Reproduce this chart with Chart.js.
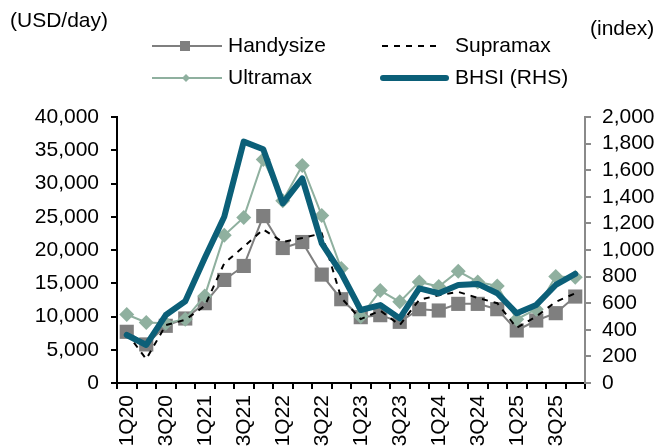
<!DOCTYPE html>
<html>
<head>
<meta charset="utf-8">
<script src="https://cdn.jsdelivr.net/npm/chart.js@4/dist/chart.umd.min.js"></script>
<style>
  html, body { margin: 0; padding: 0; background: #fff; overflow: hidden; }
  #wrap { width: 661px; height: 448px; position: relative; }
</style>
</head>
<body>
<div id="wrap"><canvas id="myChart"></canvas></div>
<script>
'use strict';

let quarters = ['1Q20','2Q20','3Q20','4Q20','1Q21','2Q21','3Q21','4Q21','1Q22','2Q22','3Q22','4Q22',
  '1Q23','2Q23','3Q23','4Q23','1Q24','2Q24','3Q24','4Q24','1Q25','2Q25','3Q25','4Q25'];

let handysize = [7700, 5800, 8600, 9700, 12000, 15500, 17600, 25100, 20300, 21200, 16300, 12600,
  9900, 10200, 9200, 11100, 10900, 11900, 11900, 11100, 7900, 9400, 10500, 13000];
let supramax = [7500, 3600, 8700, 9500, 11600, 18000, 20500, 23100, 21200, 21800, 22500, 12800,
  9600, 10900, 8700, 12500, 13200, 13700, 12800, 12000, 8300, 10000, 12200, 13500];
let ultramax = [10300, 9100, 9000, 9600, 13100, 22200, 24900, 33600, 27400, 32700, 25200, 17200,
  10000, 13900, 12200, 15200, 14500, 16800, 15200, 14600, 9600, 11100, 16000, 15900];
let bhsi = [361, 286, 511, 615, 940, 1250, 1815, 1757, 1351, 1539, 1050, 827,
  549, 586, 486, 712, 675, 737, 745, 675, 524, 587, 737, 820];

let leftTicks = [0, 5000, 10000, 15000, 20000, 25000, 30000, 35000, 40000];
let rightTicks = [0, 200, 400, 600, 800, 1000, 1200, 1400, 1600, 1800, 2000];

const FONT = '"Liberation Sans", Arial, sans-serif';
const FS = 21;
const C_HANDY = '#7f7f7f';
const C_ULTRA = '#8fb09f';
const C_BHSI = '#0b5f78';

// legend + axis unit labels drawn by hand
const extras = {
    id: 'extras',
    afterDraw(chart) {
        const ctx = chart.ctx;
        ctx.save();
        ctx.font = FS + 'px ' + FONT;
        ctx.fillStyle = '#000';
        ctx.textBaseline = 'middle';
        ctx.textAlign = 'left';
        ctx.fillText('(USD/day)', 10, 21);
        ctx.fillText('(index)', 590, 29);

        // Handysize
        ctx.strokeStyle = C_HANDY; ctx.lineWidth = 2; ctx.setLineDash([]);
        ctx.beginPath(); ctx.moveTo(152, 46); ctx.lineTo(222, 46); ctx.stroke();
        ctx.fillStyle = C_HANDY; ctx.fillRect(180, 41, 10, 10);
        // Ultramax
        ctx.strokeStyle = C_ULTRA;
        ctx.beginPath(); ctx.moveTo(152, 78); ctx.lineTo(222, 78); ctx.stroke();
        ctx.fillStyle = C_ULTRA;
        ctx.beginPath(); ctx.moveTo(186, 74); ctx.lineTo(190, 78); ctx.lineTo(186, 82); ctx.lineTo(182, 78); ctx.closePath(); ctx.fill();
        // Supramax
        ctx.strokeStyle = '#000'; ctx.setLineDash([6, 6]);
        ctx.beginPath(); ctx.moveTo(382, 46); ctx.lineTo(442, 46); ctx.stroke();
        ctx.setLineDash([]);
        // BHSI
        ctx.strokeStyle = C_BHSI; ctx.lineWidth = 6; ctx.lineCap = 'round';
        ctx.beginPath(); ctx.moveTo(383, 78); ctx.lineTo(446, 78); ctx.stroke();

        ctx.fillStyle = '#000';
        ctx.fillText('Handysize', 228, 46);
        ctx.fillText('Ultramax', 228, 78);
        ctx.fillText('Supramax', 455, 46);
        ctx.fillText('BHSI (RHS)', 455, 78);
        ctx.restore();
    }
};

function createChart() {
    let ctx = document.getElementById('myChart').getContext('2d');

    let myChart = new Chart(ctx, {
        type: 'line',
        data: {
            labels: quarters,
            datasets: [
                {
                    label: 'BHSI (RHS)',
                    data: bhsi,
                    yAxisID: 'y1',
                    borderColor: C_BHSI,
                    borderWidth: 6,
                    pointRadius: 0,
                    borderJoinStyle: 'round',
                    borderCapStyle: 'round',
                    order: 0
                },
                {
                    label: 'Supramax',
                    data: supramax,
                    yAxisID: 'y',
                    borderColor: '#000',
                    borderWidth: 2,
                    borderDash: [6, 6],
                    pointRadius: 0,
                    order: 1
                },
                {
                    label: 'Ultramax',
                    data: ultramax,
                    yAxisID: 'y',
                    borderColor: C_ULTRA,
                    borderWidth: 2,
                    pointStyle: 'rectRot',
                    pointRadius: 7.5,
                    pointBackgroundColor: C_ULTRA,
                    pointBorderColor: C_ULTRA,
                    pointBorderWidth: 0,
                    order: 2
                },
                {
                    label: 'Handysize',
                    data: handysize,
                    yAxisID: 'y',
                    borderColor: C_HANDY,
                    borderWidth: 2,
                    pointStyle: 'rect',
                    pointRadius: 10,
                    pointBackgroundColor: C_HANDY,
                    pointBorderColor: C_HANDY,
                    pointBorderWidth: 0,
                    order: 3
                }
            ]
        },
        options: {
            responsive: true,
            maintainAspectRatio: false,
            animation: false,
            layout: { padding: { top: 117, left: 0, right: 0, bottom: 0 } },
            plugins: {
                legend: { display: false },
                tooltip: { enabled: false }
            },
            scales: {
                x: {
                    offset: true,
                    grid: { offset: true, drawOnChartArea: false, drawTicks: true, tickLength: 6, color: '#000', lineWidth: 2 },
                    border: { color: '#000', width: 2 },
                    ticks: {
                        autoSkip: false,
                        minRotation: 90,
                        maxRotation: 90,
                        padding: 6,
                        color: '#000',
                        font: { family: FONT, size: FS },
                        callback: function (v, i) { return i % 2 === 0 ? quarters[i] : ''; }
                    },
                    afterFit: function (s) { s.height = 65; }
                },
                y: {
                    position: 'left',
                    min: leftTicks[0],
                    max: leftTicks[leftTicks.length - 1],
                    afterBuildTicks: function (s) { s.ticks = leftTicks.map(v => ({ value: v })); },
                    grid: { drawOnChartArea: false, drawTicks: true, tickLength: 6, color: '#000', lineWidth: 2 },
                    border: { color: '#000', width: 2 },
                    ticks: {
                        autoSkip: false,
                        padding: 12,
                        color: '#000',
                        font: { family: FONT, size: FS },
                        callback: v => v.toLocaleString('en-US')
                    },
                    afterFit: function (s) { s.width = 117; }
                },
                y1: {
                    position: 'right',
                    min: rightTicks[0],
                    max: rightTicks[rightTicks.length - 1],
                    afterBuildTicks: function (s) { s.ticks = rightTicks.map(v => ({ value: v })); },
                    grid: { drawOnChartArea: false, drawTicks: true, tickLength: 6, color: '#8a8a8a', lineWidth: 2 },
                    border: { color: '#8a8a8a', width: 2 },
                    ticks: {
                        autoSkip: false,
                        padding: 11,
                        color: '#000',
                        font: { family: FONT, size: FS },
                        callback: v => v.toLocaleString('en-US')
                    },
                    afterFit: function (s) { s.width = 76; }
                }
            }
        },
        plugins: [extras]
    });
}

createChart()
</script>
</body>
</html>
